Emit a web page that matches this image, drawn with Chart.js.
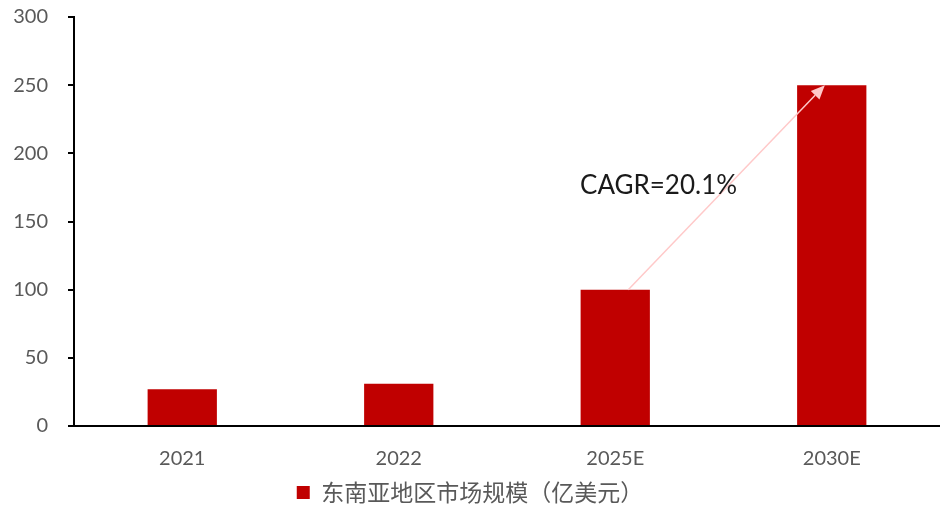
<!DOCTYPE html>
<html>
<head>
<meta charset="utf-8">
<script src="https://cdn.jsdelivr.net/npm/chart.js@4/dist/chart.umd.min.js"></script>
<style>
  html, body { margin: 0; padding: 0; background: #fff; }
  #wrap { width: 940px; height: 509px; }
</style>
</head>
<body>
<div id="wrap"><canvas id="marketChart" width="940" height="509"></canvas></div>
<script>
const categories = ['2021', '2022', '2025E', '2030E'];
const marketSize = [27, 31, 100, 250];
const seriesName = '东南亚地区市场规模（亿美元）';
const yTicks = [0, 50, 100, 150, 200, 250, 300];
const cagrLabel = 'CAGR=20.1%';

const numFont = 'Lato, "Noto Sans CJK SC", sans-serif';

// pink arrow from the 2025E bar top to the 2030E bar top, plus the CAGR text
const cagrArrow = {
    id: 'cagrArrow',
    afterDatasetsDraw(chart) {
        const x = chart.scales.x, y = chart.scales.y;
        const cat = x.getPixelForValue(1) - x.getPixelForValue(0);
        const x1 = x.getPixelForValue(2) + 0.06 * cat;
        const y1 = y.getPixelForValue(marketSize[2]);
        const x2 = x.getPixelForValue(3) - 0.032 * cat;
        const y2 = y.getPixelForValue(marketSize[3]);
        const ang = Math.atan2(y2 - y1, x2 - x1);
        const head = 14, half = 6;
        const ctx = chart.ctx;
        ctx.save();
        ctx.strokeStyle = '#FFC9C9';
        ctx.fillStyle = '#FFC9C9';
        ctx.lineWidth = 1.5;
        ctx.beginPath();
        ctx.moveTo(x1, y1);
        ctx.lineTo(x2 - head * Math.cos(ang), y2 - head * Math.sin(ang));
        ctx.stroke();
        ctx.beginPath();
        ctx.moveTo(x2, y2);
        ctx.lineTo(x2 - head * Math.cos(ang) + half * Math.sin(ang), y2 - head * Math.sin(ang) - half * Math.cos(ang));
        ctx.lineTo(x2 - head * Math.cos(ang) - half * Math.sin(ang), y2 - head * Math.sin(ang) + half * Math.cos(ang));
        ctx.closePath();
        ctx.fill();

        ctx.fillStyle = '#1a1a1a';
        ctx.font = '26px ' + numFont;
        ctx.textAlign = 'center';
        ctx.textBaseline = 'middle';
        ctx.fillText(cagrLabel, x.getPixelForValue(2) + 0.2 * cat, y.getPixelForValue(176));
        ctx.restore();
    }
};

new Chart(document.getElementById('marketChart'), {
    type: 'bar',
    data: {
        labels: categories,
        datasets: [{
            label: seriesName,
            data: marketSize,
            backgroundColor: '#C00000',
            categoryPercentage: 1,
            barPercentage: 0.32
        }]
    },
    options: {
        responsive: false,
        animation: false,
        layout: { padding: { top: 17, right: 0, left: 0, bottom: -5 } },
        scales: {
            x: {
                afterFit(axis) { axis.height = 52; axis.paddingLeft = 0; axis.paddingRight = 0; },
                grid: { display: false },
                border: { display: true, color: '#000', width: 2 },
                ticks: { color: '#595959', font: { family: numFont, size: 20 }, padding: 13 }
            },
            y: {
                min: 0,
                max: 300,
                afterBuildTicks(axis) { axis.ticks = yTicks.map(v => ({ value: v })); },
                afterFit(axis) { axis.width = 74; axis.paddingTop = 0; axis.paddingBottom = 0; },
                grid: { drawOnChartArea: false, color: '#000', tickLength: 6, lineWidth: 2 },
                border: { display: true, color: '#000', width: 2 },
                ticks: { color: '#595959', font: { family: numFont, size: 20 }, padding: 20 }
            }
        },
        plugins: {
            legend: {
                position: 'bottom',
                labels: {
                    boxWidth: 13,
                    boxHeight: 13,
                    padding: 3,
                    color: '#595959',
                    font: { family: '"Noto Sans CJK SC", sans-serif', size: 23 }
                }
            },
            tooltip: { enabled: false }
        }
    },
    plugins: [cagrArrow]
});
</script>
</body>
</html>
